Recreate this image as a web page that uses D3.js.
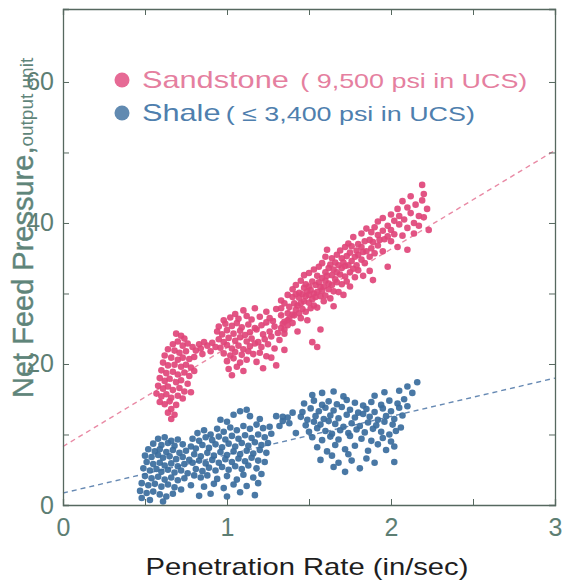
<html>
<head>
<script src="https://d3js.org/d3.v7.min.js"></script>
<style>
  body { margin: 0; background: #fff; }
  text { font-family: "Liberation Sans", Arial, sans-serif; }
</style>
</head>
<body>
<svg id="chart" width="562" height="585"></svg>

<script>
// ---- data ----
const xTicks = [0, 0.5, 1, 1.5, 2, 2.5, 3];
const xLabels = [0, 1, 2, 3];
const yTicks = [0, 10, 20, 30, 40, 50, 60];
const yLabels = [0, 20, 40, 60];

// sandstone (x = penetration rate, y = net feed pressure)
const sandstone = [
  // low-rate cluster
  [0.69,24.3],[0.72,24.0],[0.74,23.6],[0.70,23.2],[0.67,22.8],[0.73,22.6],[0.76,22.9],[0.79,22.4],[0.64,22.1],[0.68,21.9],
  [0.71,21.6],[0.75,21.8],[0.81,21.9],[0.84,22.2],[0.62,21.2],[0.66,20.9],[0.70,20.6],[0.73,20.9],[0.77,20.7],[0.80,21.0],
  [0.61,20.2],[0.64,19.8],[0.68,19.9],[0.72,19.6],[0.75,19.9],[0.78,19.5],[0.60,19.1],[0.63,18.7],[0.67,18.9],[0.70,18.5],
  [0.74,18.8],[0.77,18.3],[0.59,18.0],[0.62,17.6],[0.65,17.9],[0.69,17.4],[0.72,17.7],[0.76,17.2],[0.58,16.9],[0.61,16.5],
  [0.64,16.8],[0.67,16.3],[0.71,16.6],[0.74,16.1],[0.57,15.8],[0.60,15.4],[0.63,15.7],[0.66,15.2],[0.70,15.5],[0.73,15.1],
  [0.59,14.6],[0.62,14.3],[0.65,14.7],[0.69,14.2],[0.66,13.6],[0.64,13.1],[0.68,12.8],[0.66,12.2],[0.78,16.0],[0.80,19.0],
  [0.83,22.8],[0.86,23.1],[0.88,22.6],[0.91,23.0],[0.93,22.4],[0.90,21.8],[0.85,21.4],
  // cluster near 1 in/sec
  [1.10,27.6],[1.17,27.9],[1.24,27.4],[1.30,27.8],[1.05,27.1],
  [0.98,26.2],[1.02,26.6],[1.07,26.4],[1.12,26.8],[1.15,26.3],[1.20,26.7],[1.26,26.5],[1.33,26.9],[1.28,26.1],
  [0.95,25.3],[0.99,25.7],[1.03,25.4],[1.06,25.8],[1.09,25.2],[1.13,25.6],[1.17,25.1],[1.21,25.5],[1.24,25.9],[1.29,25.3],[1.34,25.7],[1.37,26.2],
  [0.94,24.6],[0.97,24.2],[1.00,24.8],[1.04,24.3],[1.08,24.7],[1.11,24.1],[1.14,24.5],[1.18,24.9],[1.22,24.2],[1.26,24.6],[1.31,24.4],[1.35,24.9],
  [0.95,23.5],[0.98,23.1],[1.01,23.7],[1.05,23.3],[1.08,23.8],[1.12,23.2],[1.15,23.6],[1.19,23.1],[1.23,23.5],[1.27,23.9],[1.32,23.4],
  [0.96,22.3],[1.00,22.7],[1.03,22.2],[1.07,22.6],[1.10,22.1],[1.14,22.5],[1.17,22.9],[1.21,22.4],[1.25,22.8],[1.29,22.2],
  [0.98,21.5],[1.02,21.2],[1.05,21.7],[1.09,21.3],[1.13,21.8],[1.16,21.4],[1.20,21.6],[1.24,21.1],
  [1.00,20.4],[1.04,20.8],[1.08,20.2],[1.12,20.6],[1.18,20.3],[1.27,20.9],
  [1.01,19.3],[1.06,19.6],[1.03,18.4],[1.10,19.0],[1.22,19.4],[1.30,19.8],[1.35,22.0],
  // rising band 1.3 - 2.2 in/sec
  [1.33,25.1],[1.33,27.9],[1.33,29.0],[1.35,26.0],[1.35,28.6],[1.35,24.3],[1.37,27.2],[1.37,29.8],[1.37,25.5],[1.38,28.1],[1.38,26.4],
  [1.40,27.0],[1.40,29.5],[1.40,30.6],[1.40,25.8],[1.41,28.6],[1.41,26.9],[1.42,31.2],[1.42,27.7],[1.42,29.9],[1.43,24.6],[1.43,28.3],
  [1.44,30.1],[1.44,27.2],[1.44,29.4],[1.45,31.8],[1.45,28.6],[1.45,26.5],[1.46,29.9],[1.46,27.8],[1.47,30.8],[1.47,32.6],[1.47,28.9],
  [1.48,27.4],[1.48,29.6],[1.48,31.3],[1.49,30.3],[1.49,26.2],[1.50,28.7],[1.50,31.0],[1.50,32.9],[1.50,29.8],[1.51,27.9],[1.51,30.5],
  [1.52,31.7],[1.52,29.2],[1.52,23.1],[1.53,30.0],[1.53,33.4],[1.53,28.3],[1.54,31.2],[1.54,29.5],[1.55,32.5],[1.55,30.2],[1.55,28.0],
  [1.55,22.4],[1.56,31.6],[1.56,33.8],[1.57,29.6],[1.57,30.9],[1.57,24.9],[1.58,32.2],[1.58,34.3],[1.58,30.4],[1.59,31.0],[1.59,28.9],
  [1.60,33.0],[1.60,31.8],[1.60,29.7],[1.60,35.2],[1.61,36.2],[1.61,32.5],[1.62,30.6],[1.62,33.6],[1.62,31.4],[1.63,34.1],[1.63,29.3],
  [1.64,32.6],[1.64,35.0],[1.64,31.2],[1.65,33.4],[1.65,30.3],[1.65,28.2],[1.66,34.4],[1.66,32.0],[1.67,35.5],[1.67,31.6],[1.67,33.0],
  [1.68,30.2],[1.68,34.0],[1.69,32.7],[1.69,36.1],[1.70,33.6],[1.70,35.0],[1.70,31.3],[1.71,34.4],[1.71,29.8],[1.72,32.4],[1.72,36.6],
  [1.72,33.9],[1.73,35.3],[1.73,31.7],[1.74,34.0],[1.74,37.1],[1.75,33.0],[1.75,35.8],[1.75,31.0],[1.76,34.6],[1.76,36.7],[1.77,33.5],
  [1.77,38.0],[1.78,35.2],[1.78,32.3],[1.79,36.1],[1.79,34.0],[1.80,37.0],[1.80,33.3],[1.80,35.5],[1.82,34.8],[1.82,36.6],[1.82,38.5],
  [1.83,32.5],[1.83,35.9],[1.84,37.4],[1.84,34.3],[1.85,36.0],[1.85,39.2],[1.87,35.2],[1.87,37.6],[1.87,33.2],[1.88,38.7],[1.88,36.4],
  [1.89,31.9],[1.89,37.3],[1.90,39.4],[1.90,35.7],[1.92,36.8],[1.92,38.3],[1.92,40.2],[1.93,37.6],[1.95,38.9],[1.95,36.0],[1.95,40.7],
  [1.96,37.7],[1.98,33.8],[1.98,39.6],[1.98,38.1],[2.00,41.2],[2.00,37.4],[2.00,39.0],[2.02,38.4],[2.02,40.3],[2.04,42.0],[2.04,36.6],
  [2.05,39.8],[2.05,41.0],[2.07,38.2],[2.07,43.1],[2.08,40.5],[2.10,36.2],[2.10,42.2],[2.10,39.3],[2.12,41.4],[2.12,43.8],[2.14,40.0],
  [2.14,38.5],[2.15,42.6],[2.17,41.0],[2.17,39.6],[2.19,45.4],[2.19,43.2],[2.20,44.1],[2.20,40.8],[2.22,42.0],[2.23,39.0]
];

// shale
const shale = [
  [0.58,9.4],[0.62,9.6],[0.66,9.1],[0.70,9.3],[0.55,8.7],[0.60,8.5],[0.64,8.8],[0.68,8.4],[0.73,8.6],[0.52,7.9],
  [0.56,7.6],[0.59,7.9],[0.63,7.5],[0.67,7.8],[0.71,7.4],[0.75,7.7],[0.50,7.0],[0.54,6.8],[0.58,7.1],[0.61,6.7],
  [0.65,6.9],[0.69,6.5],[0.73,6.8],[0.77,6.4],[0.51,6.1],[0.55,5.8],[0.59,6.0],[0.62,5.6],[0.66,5.9],[0.70,5.5],
  [0.74,5.8],[0.49,5.2],[0.53,4.9],[0.57,5.1],[0.60,4.7],[0.64,5.0],[0.68,4.6],[0.72,4.9],[0.76,4.5],[0.50,4.1],
  [0.54,3.8],[0.58,4.0],[0.62,3.6],[0.66,3.9],[0.70,3.5],[0.74,3.8],[0.48,3.1],[0.52,2.8],[0.56,3.0],[0.60,2.6],
  [0.64,2.9],[0.68,2.5],[0.72,2.2],[0.47,2.0],[0.51,1.7],[0.55,1.9],[0.59,1.5],[0.63,1.2],[0.67,1.6],[0.48,1.0],
  [0.53,0.7],[0.61,0.5],[0.78,2.8],[0.80,4.2],
  [0.82,10.2],[0.86,10.6],[0.90,10.0],[0.94,10.8],[0.98,10.4],[1.02,11.0],[1.06,10.6],[1.10,11.2],[1.14,10.8],[1.18,11.4],[1.22,10.9],[1.26,11.1],
  [1.04,12.8],[1.08,13.3],[1.12,13.5],[1.14,12.6],[0.96,12.1],[1.00,11.8],[1.20,12.2],[1.30,12.6],[1.34,11.9],[1.37,12.4],[1.32,11.2],
  [0.79,9.4],[0.83,9.1],[0.87,9.6],[0.91,9.2],[0.95,9.7],[0.99,9.3],[1.03,9.8],[1.07,9.4],[1.11,9.9],[1.15,9.5],[1.19,10.0],[1.23,9.6],[1.27,10.1],
  [0.78,8.3],[0.81,8.0],[0.85,8.5],[0.89,8.1],[0.93,8.6],[0.97,8.2],[1.01,8.7],[1.05,8.3],[1.09,8.8],[1.13,8.4],[1.17,8.9],[1.21,8.5],[1.25,8.8],
  [0.80,7.2],[0.84,6.9],[0.88,7.4],[0.92,7.0],[0.96,7.5],[1.00,7.1],[1.04,7.6],[1.08,7.2],[1.12,7.7],[1.16,7.3],[1.20,7.8],[1.24,7.4],
  [0.79,6.0],[0.83,6.3],[0.87,5.9],[0.91,6.4],[0.95,6.0],[0.99,6.5],[1.03,6.1],[1.07,6.6],[1.11,6.2],[1.15,6.7],[1.19,6.3],[1.23,6.1],
  [0.81,5.1],[0.85,4.8],[0.89,5.3],[0.93,4.9],[0.97,5.4],[1.01,5.0],[1.05,5.5],[1.09,5.1],[1.13,5.6],[1.18,5.2],
  [0.84,3.9],[0.88,4.2],[0.94,3.7],[1.00,4.1],[1.06,3.6],[1.10,4.3],[1.16,3.9],[1.21,4.4],
  [0.86,2.6],[0.92,3.0],[0.98,2.4],[1.04,2.9],[1.12,2.7],[1.19,3.1],
  [0.83,1.3],[0.90,1.6],[1.00,1.2],[1.08,1.8],[1.17,1.4],
  [1.52,15.6],[1.58,15.9],[1.65,16.1],[1.71,15.4],[2.16,17.4],[2.10,16.8],[2.05,16.2],[2.13,15.9],[1.90,15.5],[1.96,16.0],
  [1.47,14.4],[1.53,14.8],[1.58,14.2],[1.62,14.7],[1.67,14.3],[1.73,14.9],[1.78,14.5],[1.83,14.1],[1.88,14.6],[1.94,14.2],[1.99,14.8],[2.04,14.4],[2.08,15.0],
  [1.46,13.2],[1.51,13.7],[1.56,13.3],[1.60,13.8],[1.65,13.4],[1.70,13.9],[1.75,13.5],[1.80,13.1],[1.85,13.6],[1.90,13.2],[1.95,13.7],[2.00,13.3],[2.05,13.8],[2.10,14.0],
  [1.45,12.5],[1.49,12.1],[1.54,12.6],[1.59,12.2],[1.63,12.7],[1.68,12.3],[1.73,12.8],[1.78,12.4],[1.83,12.9],[1.87,12.5],[1.92,12.1],[1.97,12.6],[2.02,12.2],[2.07,12.7],
  [1.48,11.3],[1.53,11.8],[1.57,11.4],[1.62,11.9],[1.66,11.5],[1.71,11.1],[1.76,11.6],[1.81,11.2],[1.86,11.7],[1.91,11.3],[1.96,11.8],[2.01,11.4],[2.06,11.0],
  [1.50,10.4],[1.55,10.9],[1.60,10.5],[1.64,10.1],[1.69,10.6],[1.74,10.2],[1.79,10.7],[1.84,10.3],[1.89,10.8],[1.94,10.4],[1.99,10.0],[2.03,10.5],
  [1.52,9.6],[1.58,9.2],[1.63,9.7],[1.68,9.3],[1.75,9.8],[1.82,9.4],[1.88,9.1],[1.95,9.5],[2.00,9.0],
  [1.55,8.2],[1.61,7.6],[1.66,8.5],[1.72,7.9],[1.78,8.4],[1.86,7.7],[1.92,8.6],[1.97,7.8],[2.02,8.3],[1.64,7.0],[1.74,7.2],
  [1.57,6.4],[1.65,5.4],[1.72,4.7],[1.81,5.2],[1.76,6.3],[1.90,6.0],[2.02,6.1],[1.85,6.6],[1.68,6.0],
  [1.34,12.5],[1.38,11.6],[1.42,10.2],[1.40,13.1]
];

// dashed fit lines: [x, y] end points
const sandFit = [[0, 8.3], [3, 50.3]];
const shaleFit = [[0, 1.7], [3, 18.0]];

const legendNames = ["Sandstone", "Shale"];
const legendNotes = ["( 9,500 psi in UCS)", "( \u2264 3,400 psi in UCS)"];

// ---- drawing ----
const svg = d3.select("#chart");
const width = +svg.attr("width");
const height = +svg.attr("height");
const margin = {top: 9, right: 7, bottom: 80, left: 63};

const x = d3.scaleLinear().domain([0, 3]).range([margin.left, width - margin.right]);
const y = d3.scaleLinear().domain([0, 70.35]).range([height - margin.bottom, margin.top]);

const axisColor = "#56685f";
const tickTextColor = "#5d7e73";
const pink = "#e0457a";
const blue = "#3a6d9d";

// fit lines (drawn under the points)
const line = d3.line().x(d => x(d[0])).y(d => y(d[1]));
svg.append("path").datum(sandFit)
  .attr("d", line).attr("fill", "none")
  .attr("stroke", "#e98aa5").attr("stroke-width", 1.4).attr("stroke-dasharray", "5,4");
svg.append("path").datum(shaleFit)
  .attr("d", line).attr("fill", "none")
  .attr("stroke", "#6689b3").attr("stroke-width", 1.4).attr("stroke-dasharray", "5,4");

// points
svg.append("g").selectAll("circle").data(sandstone).join("circle")
  .attr("cx", d => x(d[0])).attr("cy", d => y(d[1])).attr("r", 3.3)
  .attr("fill", pink).attr("fill-opacity", 0.92);
svg.append("g").selectAll("circle").data(shale).join("circle")
  .attr("cx", d => x(d[0])).attr("cy", d => y(d[1])).attr("r", 3.3)
  .attr("fill", blue).attr("fill-opacity", 0.92);

// axes: inward ticks on all four sides
const fmtX = d => xLabels.includes(d) ? d : "";
const fmtY = d => yLabels.includes(d) ? d : "";

const gBottom = svg.append("g").attr("transform", `translate(0,${y(0)})`)
  .call(d3.axisBottom(x).tickValues(xTicks).tickSize(-6).tickPadding(10).tickFormat(fmtX));
const gTop = svg.append("g").attr("transform", `translate(0,${y(70.35)})`)
  .call(d3.axisTop(x).tickValues(xTicks).tickSize(-6).tickFormat(""));
const gLeft = svg.append("g").attr("transform", `translate(${x(0)},0)`)
  .call(d3.axisLeft(y).tickValues(yTicks).tickSize(-6).tickPadding(9).tickFormat(fmtY));
const gRight = svg.append("g").attr("transform", `translate(${x(3)},0)`)
  .call(d3.axisRight(y).tickValues(yTicks).tickSize(-6).tickFormat(""));

[gBottom, gTop, gLeft, gRight].forEach(g => {
  g.select(".domain").attr("stroke", axisColor).attr("stroke-width", 1.3);
  g.selectAll(".tick line").attr("stroke", axisColor).attr("stroke-width", 1);
  g.selectAll(".tick text").attr("fill", tickTextColor).style("font-size", "25px");
});
gBottom.selectAll(".tick text").attr("dy", "0.85em");

// y-axis title
svg.append("text")
  .attr("transform", `translate(33,398) rotate(-90)`)
  .attr("fill", "#5f857a")
  .attr("stroke", "#5f857a").attr("stroke-width", 0.4)
  .style("font-size", "29px")
  .text("Net Feed Pressure,")
  .append("tspan")
  .attr("stroke-width", 0)
  .style("font-size", "19px")
  .text("output unit");

// x-axis title
svg.append("text")
  .attr("transform", `translate(307,575) scale(1.27,1)`)
  .attr("text-anchor", "middle")
  .attr("fill", "#1e1e1e")
  .style("font-size", "23px")
  .text("Penetration Rate (in/sec)");

// legend
const legendColors = [pink, blue];
const legendText = ["#e57fa0", "#4f7fae"];
const legend = svg.append("g").selectAll("g").data(legendNames).join("g")
  .attr("transform", (d, i) => `translate(122,${80 + i * 33})`);
legend.append("circle").attr("r", 7.5).attr("fill", (d, i) => legendColors[i]).attr("fill-opacity", 0.8);
const lt = legend.append("text")
  .attr("transform", "translate(20,8) scale(1.28,1)")
  .attr("fill", (d, i) => legendText[i])
  .style("font-size", "24px");
lt.append("tspan").text(d => d);
lt.append("tspan").attr("dx", (d, i) => i === 0 ? 9 : 4).style("font-size", "21px").text((d, i) => legendNotes[i]);
</script>
</body>
</html>
